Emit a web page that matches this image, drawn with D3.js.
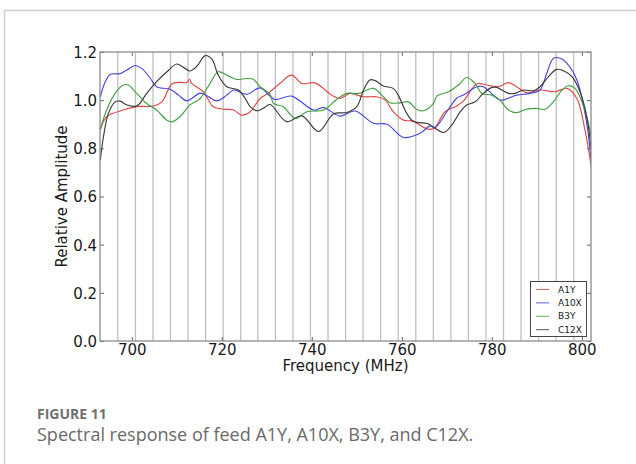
<!DOCTYPE html>
<html>
<head>
<meta charset="utf-8">
<script src="https://cdn.jsdelivr.net/npm/d3@7/dist/d3.min.js"></script>
<style>
  html, body { margin: 0; padding: 0; background: #fff; }
  svg { display: block; }
</style>
</head>
<body>
<svg id="chart" width="636" height="464"></svg>
<script>
// Spectral response curves: [frequency (MHz), relative amplitude]
const A1Y = [
  [693.0,0.876],[694.4,0.931],[698.1,0.959],[701.1,0.973],[704.8,0.976],[706.7,0.993],
  [708.9,1.067],[710.7,1.074],[712.2,1.073],[712.8,1.087],[713.3,1.070],[715.9,1.035],
  [718.1,0.973],[720.4,0.963],[722.6,0.959],[724.4,0.938],[726.3,0.952],[728.5,1.007],
  [730.4,1.030],[732.9,1.069],[735.5,1.104],[737.8,1.069],[740.7,1.072],[744.4,1.021],
  [746.3,1.007],[748.5,1.028],[751.5,1.014],[754.4,1.014],[756.3,1.000],[758.1,0.952],
  [760.4,0.917],[762.6,0.913],[764.8,0.887],[766.3,0.879],[767.4,0.887],[769.6,0.952],
  [772.2,0.976],[773.7,0.997],[776.7,1.068],[778.9,1.063],[781.5,1.056],[783.7,1.073],
  [785.5,1.056],[787.8,1.031],[790.7,1.042],[794.1,1.035],[796.7,1.049],[798.9,1.007],
  [800.7,0.876],[802.1,0.724]
];
const A10X = [
  [693.0,1.014],[694.1,1.076],[695.2,1.107],[697.4,1.110],[698.9,1.125],[700.7,1.144],
  [702.2,1.132],[704.1,1.091],[705.5,1.056],[708.5,1.045],[710.4,1.021],[712.2,0.997],
  [715.2,1.029],[717.0,1.015],[718.9,0.997],[721.1,1.021],[722.6,1.042],[725.5,1.024],
  [728.5,1.051],[731.8,1.003],[735.5,1.017],[740.4,0.959],[742.6,0.969],[746.3,0.934],
  [749.6,0.955],[753.7,0.904],[756.7,0.900],[760.4,0.845],[764.1,0.863],[766.3,0.893],
  [767.4,0.886],[770.0,0.952],[772.2,1.008],[773.7,1.021],[776.7,1.056],[778.1,1.056],
  [781.1,1.008],[782.2,1.000],[785.5,1.021],[788.5,1.028],[790.7,1.042],[792.2,1.111],
  [793.7,1.174],[795.2,1.174],[796.7,1.153],[798.9,1.084],[801.1,0.904],[802.1,0.738]
];
const B3Y = [
  [693.0,0.879],[694.4,0.959],[696.3,1.028],[698.1,1.063],[699.2,1.063],[701.1,1.028],
  [703.3,0.986],[705.5,0.959],[707.8,0.917],[708.9,0.910],[710.7,0.931],[712.9,0.980],
  [715.2,1.007],[717.4,1.070],[719.2,1.118],[721.1,1.104],[723.3,1.086],[725.5,1.090],
  [727.0,1.087],[728.5,1.056],[730.7,1.025],[731.5,0.986],[733.7,0.973],[736.3,0.924],
  [738.9,0.952],[742.6,0.959],[745.5,1.003],[747.8,1.028],[750.4,1.028],[753.7,1.049],
  [755.9,1.014],[757.4,0.989],[759.6,0.989],[761.5,0.993],[763.3,0.961],[764.8,0.956],
  [767.0,0.986],[767.8,1.017],[770.4,1.035],[772.6,1.063],[774.4,1.094],[776.3,1.069],
  [777.8,1.028],[780.0,1.021],[781.8,1.000],[783.7,0.959],[785.5,0.948],[787.8,0.963],
  [790.0,0.966],[791.8,0.962],[793.7,0.994],[795.6,1.042],[797.0,1.060],[798.5,1.049],
  [800.0,0.994],[801.1,0.931],[802.1,0.848]
];
const C12X = [
  [693.0,0.751],[693.7,0.848],[694.8,0.945],[696.3,0.993],[697.4,0.996],[698.9,0.980],
  [701.1,0.976],[703.3,1.028],[705.5,1.077],[707.8,1.118],[710.0,1.150],[711.8,1.132],
  [712.9,1.121],[714.4,1.139],[716.3,1.185],[717.8,1.170],[719.2,1.104],[721.1,1.056],
  [723.7,1.042],[725.2,1.007],[726.3,0.973],[727.8,0.956],[729.2,0.966],[730.7,0.982],
  [734.4,0.911],[737.8,0.935],[741.5,0.870],[744.8,0.943],[747.8,0.949],[750.0,0.973],
  [751.5,1.042],[752.9,1.084],[754.1,1.081],[755.9,1.059],[758.1,1.049],[759.2,1.021],
  [761.1,0.945],[762.6,0.911],[765.5,0.904],[766.3,0.897],[769.3,0.866],[771.1,0.897],
  [773.0,0.952],[774.4,0.980],[776.3,0.993],[778.1,1.028],[780.0,1.053],[781.1,1.053],
  [783.7,1.028],[785.2,1.028],[787.0,1.042],[789.3,1.039],[790.7,1.056],[792.6,1.098],
  [794.4,1.128],[795.9,1.122],[797.8,1.098],[799.6,1.035],[801.1,0.931],[802.1,0.793]
];

const seriesNames = ["A1Y", "A10X", "B3Y", "C12X"];
const seriesColors = ["#e04848", "#4848e0", "#45a045", "#3a3a3a"];
const seriesData = [A1Y, A10X, B3Y, C12X];

// Channel marker frequencies (MHz)
const channelFreqs = [696.9, 700.8, 704.7, 708.6, 712.5, 716.4, 720.3, 724.2, 728.0,
  731.9, 735.8, 739.7, 743.6, 747.5, 751.4, 755.3, 759.2, 763.1, 767.0, 770.9,
  774.8, 778.7, 782.6, 786.5, 790.4, 794.3, 798.2];

const xTicks = [700, 720, 740, 760, 780, 800];
const yTicks = [0.0, 0.2, 0.4, 0.6, 0.8, 1.0, 1.2];

const captionTitle = "FIGURE 11";
const captionText = "Spectral response of feed A1Y, A10X, B3Y, and C12X.";

const svg = d3.select("#chart");

// figure panel border
svg.append("path")
  .attr("d", "M4.5,470 L4.5,10.5 L640,10.5")
  .attr("fill", "none").attr("stroke", "#cfcfcf").attr("stroke-width", 1.5);

const plot = { left: 100, right: 591, top: 52, bottom: 341 };

const x = d3.scaleLinear().domain([692.93, 802.04]).range([plot.left, plot.right]);
const y = d3.scaleLinear().domain([0, 1.2]).range([plot.bottom, plot.top]);

svg.append("defs").append("clipPath").attr("id", "plotclip")
  .append("rect")
  .attr("x", plot.left).attr("y", plot.top)
  .attr("width", plot.right - plot.left).attr("height", plot.bottom - plot.top);

// channel markers
svg.append("g").selectAll("line").data(channelFreqs).join("line")
  .attr("x1", d => x(d)).attr("x2", d => x(d))
  .attr("y1", plot.top).attr("y2", plot.bottom)
  .attr("stroke", "#c0c0c0").attr("stroke-width", 1.3);

// curves
const line = d3.line()
  .x(d => x(d[0])).y(d => y(d[1]))
  .curve(d3.curveCatmullRom.alpha(0.5));

svg.append("g").attr("clip-path", "url(#plotclip)")
  .selectAll("path").data(seriesData).join("path")
  .attr("d", d => line(d))
  .attr("fill", "none")
  .attr("stroke", (d, i) => seriesColors[i])
  .attr("stroke-width", 1.15);

// axes (ticks inward, labels outside)
const tickFont = "DejaVu Sans, sans-serif";
const xAxis = d3.axisBottom(x).tickValues(xTicks).tickSizeInner(-4).tickSizeOuter(0)
  .tickPadding(3.5).tickFormat(d3.format("d"));
const gx = svg.append("g").attr("transform", `translate(0,${plot.bottom})`).call(xAxis);
const xTop = d3.axisTop(x).tickValues(xTicks).tickSizeInner(-4).tickSizeOuter(0).tickFormat("");
const gxt = svg.append("g").attr("transform", `translate(0,${plot.top})`).call(xTop);
const yAxis = d3.axisLeft(y).tickValues(yTicks).tickSizeInner(-4).tickSizeOuter(0)
  .tickPadding(3).tickFormat(d3.format(".1f"));
const gy = svg.append("g").attr("transform", `translate(${plot.left},0)`).call(yAxis);
const yRight = d3.axisRight(y).tickValues(yTicks).tickSizeInner(-4).tickSizeOuter(0).tickFormat("");
const gyr = svg.append("g").attr("transform", `translate(${plot.right},0)`).call(yRight);

[gx, gxt, gy, gyr].forEach(g => {
  g.select(".domain").remove();
  g.selectAll(".tick line").attr("stroke", "#666").attr("stroke-width", 1);
  g.selectAll("text").attr("font-family", tickFont).attr("font-size", 15).attr("fill", "#1a1a1a");
});
gy.selectAll("text").attr("dy", "0.36em");

// plot frame
svg.append("rect")
  .attr("x", plot.left).attr("y", plot.top)
  .attr("width", plot.right - plot.left).attr("height", plot.bottom - plot.top)
  .attr("fill", "none").attr("stroke", "#8a8a8a").attr("stroke-width", 1.3);

// axis titles
svg.append("text")
  .attr("x", (plot.left + plot.right) / 2).attr("y", 371)
  .attr("text-anchor", "middle")
  .attr("font-family", tickFont).attr("font-size", 15).attr("fill", "#1a1a1a")
  .text("Frequency (MHz)");
svg.append("text")
  .attr("transform", `translate(67,${(plot.top + plot.bottom) / 2}) rotate(-90)`)
  .attr("text-anchor", "middle")
  .attr("font-family", tickFont).attr("font-size", 15).attr("fill", "#1a1a1a")
  .text("Relative Amplitude");

// legend
const leg = svg.append("g").attr("transform", "translate(530,281)");
leg.append("rect").attr("x", 0.5).attr("y", 0.5).attr("width", 56).attr("height", 55)
  .attr("fill", "#fff").attr("stroke", "#444").attr("stroke-width", 1);
seriesNames.forEach((name, i) => {
  const ly = 8.5 + i * 13.4;
  leg.append("line").attr("x1", 6).attr("x2", 19).attr("y1", ly).attr("y2", ly)
    .attr("stroke", seriesColors[i]).attr("stroke-width", 1).attr("opacity", 0.85);
  leg.append("text").attr("x", 28).attr("y", ly).attr("dy", "0.35em")
    .attr("font-family", tickFont).attr("font-size", 9).attr("fill", "#1a1a1a")
    .text(name);
});

// caption
svg.append("text").attr("x", 37).attr("y", 419)
  .attr("font-family", "Open Sans, sans-serif").attr("font-size", 14).attr("font-weight", 700)
  .attr("fill", "#707070").text(captionTitle);
svg.append("text").attr("x", 37).attr("y", 441)
  .attr("font-family", "Open Sans, sans-serif").attr("font-size", 18)
  .attr("fill", "#6a6a6a").text(captionText);
</script>
</body>
</html>
